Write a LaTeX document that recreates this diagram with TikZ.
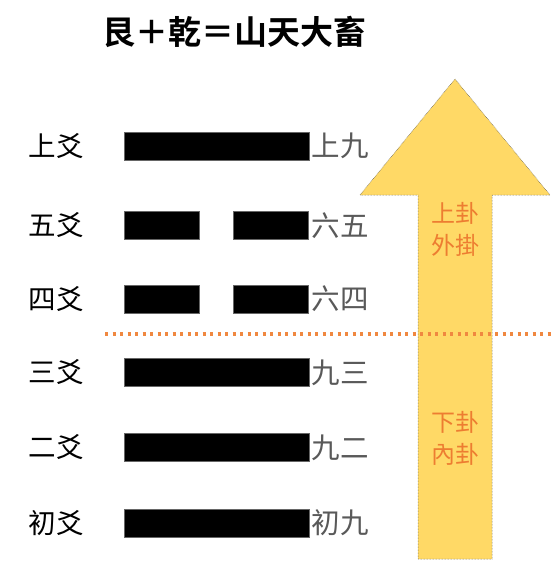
\documentclass[tikz,border=0pt]{standalone}
\usepackage{fontspec}
\newfontfamily\cjk{Noto Sans CJK TC}[BoldFont={Noto Sans CJK TC Bold}]
\definecolor{barblack}{HTML}{000000}
\definecolor{labgray}{HTML}{595959}
\definecolor{arrowyellow}{HTML}{FFD966}
\definecolor{gorange}{HTML}{ED7D31}
\definecolor{dotorange}{HTML}{F08840}
\begin{document}
\begin{tikzpicture}[x=1pt,y=-1pt,
  yaoline/.style={fill=barblack,draw=black!60,line width=0.3pt,inner sep=0pt,minimum height=28pt},
  fullbar/.style={yaoline,minimum width=185pt},
  halfbar/.style={yaoline,minimum width=75pt},
  leftlab/.style={font=\cjk\fontsize{27.5}{30}\selectfont,text=black,inner sep=0pt},
  rightlab/.style={font=\cjk\fontsize{28.5}{30}\selectfont,text=labgray,inner sep=0pt,anchor=west},
  gualab/.style={font=\cjk\fontsize{24}{32}\selectfont,text=gorange,inner sep=0pt,align=center},
  divider/.style={dotorange,line width=3.2pt,dash pattern=on 3.2pt off 4.3pt}]
\useasboundingbox (0,0) rectangle (554,572);
% arrow
\coordinate (tip) at (455,79);
\coordinate (hl) at (360,195);
\coordinate (hr) at (550,195);
\coordinate (sl) at (418,195);
\coordinate (sr) at (492,195);
\coordinate (bl) at (418,559);
\coordinate (br) at (492,559);
\draw[fill=arrowyellow,draw=black!70,line width=0.5pt,densely dotted]
  (tip) -- (hr) -- (sr) -- (br) -- (bl) -- (sl) -- (hl) -- cycle;
% title
\node[font=\cjk\bfseries\fontsize{33}{36}\selectfont,inner sep=0pt] (title) at (234,32) {艮＋乾＝山天大畜};
% rows
\node[leftlab] (l6) at (56,146) {上爻};
\node[leftlab] (l5) at (56,225.5) {五爻};
\node[leftlab] (l4) at (56,299) {四爻};
\node[leftlab] (l3) at (56,372.5) {三爻};
\node[leftlab] (l2) at (56,447.5) {二爻};
\node[leftlab] (l1) at (56,523) {初爻};
\node[fullbar] (b6) at (216.5,146) {};
\node[halfbar] (b5a) at (161.5,225.5) {};
\node[halfbar] (b5b) at (271,225.5) {};
\node[halfbar] (b4a) at (161.5,299) {};
\node[halfbar] (b4b) at (271,299) {};
\node[fullbar] (b3) at (216.5,372.5) {};
\node[fullbar] (b2) at (216.5,447.5) {};
\node[fullbar] (b1) at (216.5,523) {};
\node[rightlab] (r6) at (311.5,146) {上九};
\node[rightlab] (r5) at (311.5,225.5) {六五};
\node[rightlab] (r4) at (311.5,299) {六四};
\node[rightlab] (r3) at (311.5,372.5) {九三};
\node[rightlab] (r2) at (311.5,447.5) {九二};
\node[rightlab] (r1) at (311.5,523) {初九};
% gua labels
\node[gualab] (upper) at (455,229) {上卦\\外掛};
\node[gualab] (lower) at (455,438.5) {下卦\\內卦};
% divider
\coordinate (dl) at (105,334);
\coordinate (dr) at (554,334);
\draw[divider] (dl) -- (dr);
\end{tikzpicture}
\end{document}
